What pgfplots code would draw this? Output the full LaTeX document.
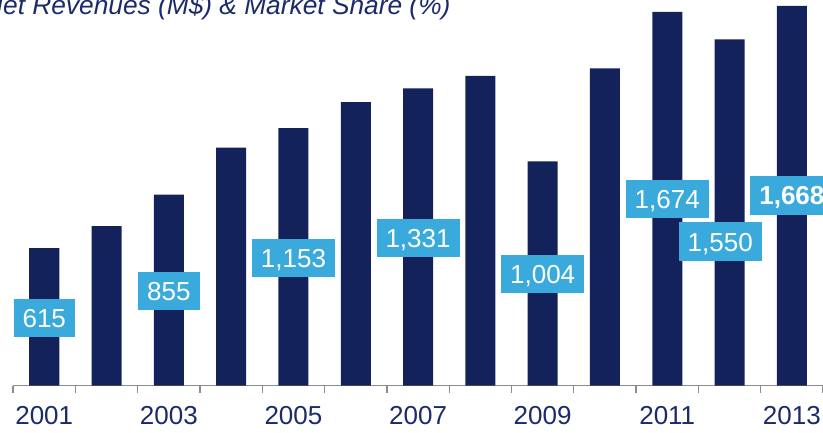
\documentclass[border=0pt]{standalone}
\usepackage{pgfplots}
\pgfplotsset{compat=1.18}
\usepackage{fontspec}
\setmainfont{Liberation Sans}
\definecolor{barnavy}{RGB}{20,34,92}
\definecolor{boxblue}{RGB}{58,170,220}
\definecolor{txtnavy}{RGB}{27,42,107}
\definecolor{axgray}{RGB}{140,140,140}
\tikzset{lbl/.style={fill=boxblue, text=white, font=\fontsize{26}{26}\selectfont, inner xsep=9pt, inner ysep=10pt, text height=18.6pt, text depth=0pt, anchor=center}}
\begin{document}
\begin{tikzpicture}[x=1pt,y=1pt]
\useasboundingbox (0,0) rectangle (823,432);
\clip (0,0) rectangle (823,432);
\node[anchor=base west, font=\fontsize{26.3}{30}\selectfont\itshape, text=txtnavy, inner sep=0pt] at (-16,417) {Net Revenues (M\$) \& Market Share (\%)};
\begin{axis}[
  at={(13.1pt,46.5pt)}, anchor=south west, scale only axis,
  width=809.9pt, height=385.5pt,
  xmin=2000.5, xmax=2013.5, ymin=0, ymax=1726.8,
  ybar, bar width=30pt,
  axis y line=none, axis x line*=bottom,
  x axis line style={draw=axgray, line width=1.6pt},
  xtick={2000.5,2001.5,2002.5,2003.5,2004.5,2005.5,2006.5,2007.5,2008.5,2009.5,2010.5,2011.5,2012.5,2013.5},
  xticklabels={},
  tick align=outside, major tick length=7pt,
  x tick style={draw=axgray, line width=1.3pt},
  extra x ticks={2001,2003,2005,2007,2009,2011,2013},
  extra x tick labels={2001,2003,2005,2007,2009,2011,2013},
  extra x tick style={major tick length=0pt, x tick style={draw=none}},
  xticklabel style={font=\fontsize{26}{26}\selectfont, text=txtnavy, anchor=north, inner sep=0pt, yshift=-21pt},
  clip=false,
]
\addplot[fill=barnavy, draw=none] coordinates {(2001,615) (2002,714) (2003,855) (2004,1065) (2005,1153) (2006,1269) (2007,1331) (2008,1387) (2009,1004) (2010,1421) (2011,1674) (2012,1550) (2013,1701)};
\node[lbl] at (axis cs:2001,302) {615};
\node[lbl] at (axis cs:2003,423) {855};
\node[lbl] at (axis cs:2005,572) {1,153};
\node[lbl] at (axis cs:2007,661) {1,331};
\node[lbl] at (axis cs:2009,500) {1,004};
\node[lbl] at (axis cs:2011,836) {1,674};
\node[lbl] at (axis cs:2011.85,644) {1,550};
\node[lbl, font=\fontsize{26}{26}\selectfont\bfseries] at (axis cs:2013,851) {1,668};
\end{axis}
\end{tikzpicture}
\end{document}
